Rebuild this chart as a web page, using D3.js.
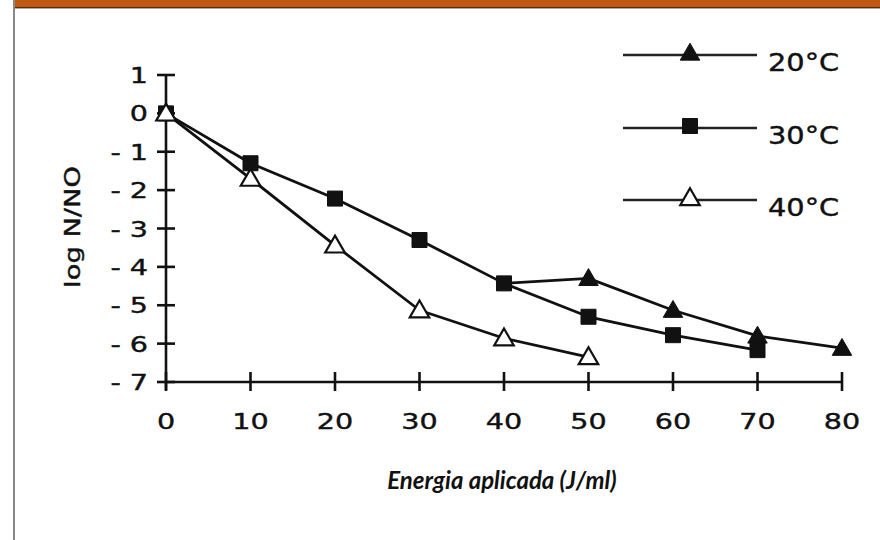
<!DOCTYPE html>
<html>
<head>
<meta charset="utf-8">
<script src="https://cdn.jsdelivr.net/npm/d3@7/dist/d3.min.js"></script>
<style>
html,body{margin:0;padding:0;background:#fff;}
svg{display:block;}
</style>
</head>
<body>
<svg id="chart" width="880" height="540"></svg>
<script>
// ---- data ----
const xTicks = [0, 10, 20, 30, 40, 50, 60, 70, 80];
const yTicks = [1, 0, -1, -2, -3, -4, -5, -6, -7];
const yTickLabels = ["1", "0", "- 1", "- 2", "- 3", "- 4", "- 5", "- 6", "- 7"];
const seriesNames = ["20°C", "30°C", "40°C"];
const energy20 = [40, 50, 60, 70, 80];
const logN20 = [-4.43, -4.3, -5.13, -5.8, -6.12];
const energy30 = [0, 10, 20, 30, 40, 50, 60, 70];
const logN30 = [0, -1.3, -2.22, -3.3, -4.43, -5.3, -5.78, -6.17];
const energy40 = [0, 10, 20, 30, 40, 50];
const logN40 = [0, -1.7, -3.44, -5.13, -5.86, -6.35];
const xTitle = "Energia aplicada (J/ml)";
const yTitle = "log N/NO";

const svg = d3.select("#chart");

// frame: orange band at top and grey rule at left
svg.append("rect").attr("x", 14).attr("y", 0).attr("width", 866).attr("height", 7).attr("fill", "#c05a13");
svg.append("line").attr("x1", 14).attr("x2", 880).attr("y1", 7.5).attr("y2", 7.5).attr("stroke", "#5a2a0a").attr("stroke-width", 1);
svg.append("line").attr("x1", 14).attr("x2", 880).attr("y1", 8.5).attr("y2", 8.5).attr("stroke", "#aaa").attr("stroke-width", 1);
svg.append("line").attr("x1", 14).attr("x2", 14).attr("y1", 0).attr("y2", 540).attr("stroke", "#888").attr("stroke-width", 2);

const x = d3.scaleLinear().domain([0, 80]).range([166, 842]);
const y = d3.scaleLinear().domain([-7, 1]).range([382, 75]);

const font = "'DejaVu Sans', Verdana, sans-serif";
const sx = 1.3;

// axes
const g = svg.append("g");
g.append("line").attr("x1", x(0)).attr("x2", x(0)).attr("y1", y(1)).attr("y2", y(-7) + 8)
  .attr("stroke", "#111").attr("stroke-width", 2.6);
g.append("line").attr("x1", x(0)).attr("x2", x(80)).attr("y1", y(-7)).attr("y2", y(-7))
  .attr("stroke", "#111").attr("stroke-width", 2.6);

yTicks.forEach((t, i) => {
  g.append("line").attr("x1", x(0) - 9).attr("x2", x(0) + 9).attr("y1", y(t)).attr("y2", y(t))
    .attr("stroke", "#111").attr("stroke-width", 2.6);
  g.append("text")
    .attr("transform", `translate(148,${y(t) + 8}) scale(${sx},1)`)
    .attr("text-anchor", "end")
    .attr("font-family", font).attr("font-size", 22).attr("fill", "#111")
    .attr("stroke", "#111").attr("stroke-width", 0.4)
    .text(yTickLabels[i]);
});
xTicks.forEach(t => {
  g.append("line").attr("x1", x(t)).attr("x2", x(t)).attr("y1", y(-7) - 10).attr("y2", y(-7) + 9)
    .attr("stroke", "#111").attr("stroke-width", 2.6);
  g.append("text")
    .attr("transform", `translate(${x(t)},429) scale(${sx},1)`)
    .attr("text-anchor", "middle")
    .attr("font-family", font).attr("font-size", 22).attr("fill", "#111")
    .attr("stroke", "#111").attr("stroke-width", 0.4)
    .text(t);
});

// titles
svg.append("text")
  .attr("transform", `translate(80,227) rotate(-90) scale(1.3,1)`)
  .attr("text-anchor", "middle")
  .attr("font-family", font).attr("font-size", 21).attr("fill", "#111")
  .attr("stroke", "#111").attr("stroke-width", 0.4)
  .text(yTitle);
svg.append("text")
  .attr("x", 502).attr("y", 489)
  .attr("text-anchor", "middle")
  .attr("font-family", "Lato, 'Open Sans', sans-serif").attr("font-size", 24)
  .attr("font-weight", "bold").attr("font-style", "italic").attr("fill", "#111")
  .text(xTitle);

// series
const line = d3.line().x(d => x(d[0])).y(d => y(d[1]));
const series = [
  { name: seriesNames[0], pts: d3.zip(energy20, logN20), sym: d3.symbolTriangle, fill: "#111", markFrom: 1 },
  { name: seriesNames[1], pts: d3.zip(energy30, logN30), sym: d3.symbolSquare, fill: "#111", markFrom: 0 },
  { name: seriesNames[2], pts: d3.zip(energy40, logN40), sym: d3.symbolTriangle, fill: "#fff", markFrom: 0 }
];
function symPath(s) {
  const size = s === d3.symbolSquare ? 225 : 165;
  return d3.symbol().type(s).size(size)();
}

series.forEach(s => {
  svg.append("path").attr("d", line(s.pts)).attr("fill", "none")
    .attr("stroke", "#111").attr("stroke-width", 2.8).attr("stroke-linejoin", "round");
});
series.forEach(s => {
  const triOff = s.sym === d3.symbolTriangle ? 1.5 : 0;
  svg.selectAll(null).data(s.pts.slice(s.markFrom)).enter().append("path")
    .attr("d", symPath(s.sym))
    .attr("transform", d => `translate(${x(d[0])},${y(d[1]) + triOff})`)
    .attr("fill", s.fill).attr("stroke", "#111").attr("stroke-width", s.fill === "#fff" ? 2.2 : 1);
});

// legend
const legY = [55, 128, 200];
series.forEach((s, i) => {
  svg.append("line").attr("x1", 623).attr("x2", 757).attr("y1", legY[i]).attr("y2", legY[i])
    .attr("stroke", "#222").attr("stroke-width", 2.4);
  const triOff = s.sym === d3.symbolTriangle ? 1.5 : 0;
  svg.append("path").attr("d", symPath(s.sym))
    .attr("transform", `translate(690,${legY[i] - 2 + triOff})`)
    .attr("fill", s.fill).attr("stroke", "#111").attr("stroke-width", s.fill === "#fff" ? 2.2 : 1);
  svg.append("text")
    .attr("transform", `translate(768,${legY[i] + 16}) scale(1.2,1)`)
    .attr("font-family", font).attr("font-size", 24).attr("fill", "#111")
    .attr("stroke", "#111").attr("stroke-width", 0.4)
    .text(s.name);
});
</script>
</body>
</html>
